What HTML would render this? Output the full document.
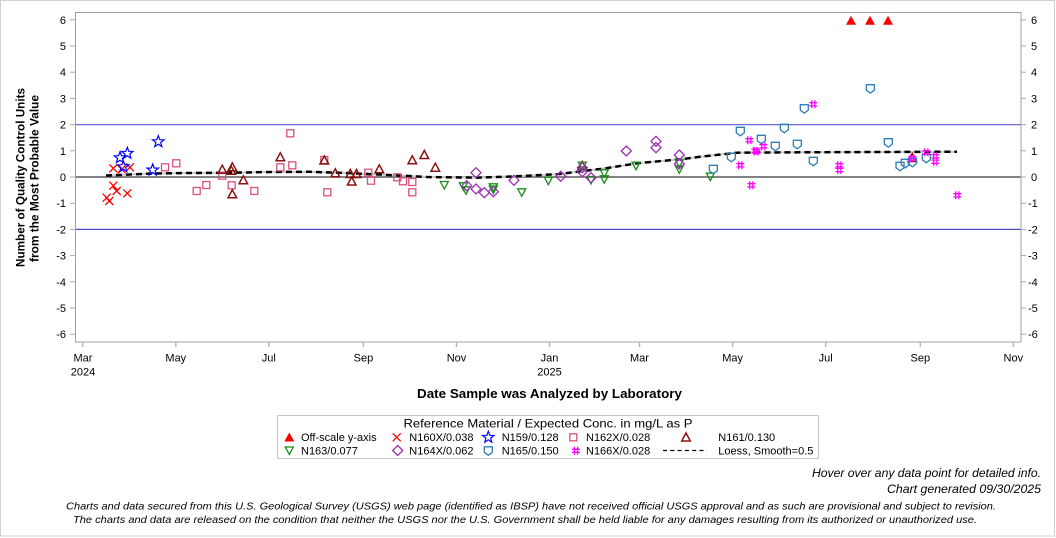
<!DOCTYPE html>
<html><head><meta charset="utf-8"><style>
html,body{margin:0;padding:0;background:#fff;}
svg{display:block;font-family:"Liberation Sans",Arial,sans-serif;}
</style></head><body>
<svg width="1056" height="538" viewBox="0 0 1056 538" xmlns="http://www.w3.org/2000/svg">
<defs>
<g id="sq"><rect x="-3.5" y="-3.5" width="7" height="7" fill="none" stroke="#d9507f" stroke-width="1.3"/></g>
<g id="tri"><polygon points="0,-4.5 4.3,3.5 -4.3,3.5" fill="none" stroke="#8b1010" stroke-width="1.5"/></g>
<g id="dtri"><polygon points="-4,-3.5 4,-3.5 0,4" fill="none" stroke="#1a8c1a" stroke-width="1.3"/></g>
<g id="dia"><polygon points="0,-5 5,0 0,5 -5,0" fill="none" stroke="#9b30b0" stroke-width="1.3"/></g>
<g id="shd"><polygon points="-4,-4 4,-4 4,1.5 0,4.5 -4,1.5" fill="none" stroke="#2f7fb3" stroke-width="1.3"/></g>
<g id="xx"><path d="M-4,-4L4,4M-4,4L4,-4" stroke="#ff0000" stroke-width="1.3" fill="none"/></g>
<g id="star"><polygon points="0,-6 1.5,-2 5.7,-1.9 2.4,0.8 3.5,4.9 0,2.5 -3.5,4.9 -2.4,0.8 -5.7,-1.9 -1.5,-2" fill="none" stroke="#0000ff" stroke-width="1.2"/></g>
<g id="hash"><path d="M-1.6,-4V4M1.6,-4V4M-4,-1.6H4M-4,1.6H4" stroke="#ff00ff" stroke-width="1.3" fill="none"/></g>
<g id="off"><polygon points="0,-5 5,4 -5,4" fill="#ff0000"/></g>
</defs>

<!-- outer border -->
<rect x="0.5" y="0.5" width="1054" height="535.5" fill="none" stroke="#d0d0d0" stroke-width="1"/>

<!-- reference lines -->
<line x1="75.5" y1="124.6" x2="1021" y2="124.6" stroke="#6a6ad8" stroke-width="1.3"/>
<line x1="75.5" y1="229.4" x2="1021" y2="229.4" stroke="#4f4fc0" stroke-width="1.3"/>
<line x1="75.5" y1="177" x2="1021" y2="177" stroke="#5a5a5a" stroke-width="1.5"/>

<!-- frame -->
<rect x="75.5" y="12.5" width="945.5" height="329.5" fill="none" stroke="#a0a0a0" stroke-width="1"/>

<!-- y ticks left/right -->
<g stroke="#a8a8a8" stroke-width="1">
<line x1="70" y1="19.8" x2="75" y2="19.8"/><line x1="70" y1="46" x2="75" y2="46"/><line x1="70" y1="72.2" x2="75" y2="72.2"/><line x1="70" y1="98.4" x2="75" y2="98.4"/><line x1="70" y1="124.6" x2="75" y2="124.6"/><line x1="70" y1="150.8" x2="75" y2="150.8"/><line x1="70" y1="177" x2="75" y2="177"/><line x1="70" y1="203.2" x2="75" y2="203.2"/><line x1="70" y1="229.4" x2="75" y2="229.4"/><line x1="70" y1="255.6" x2="75" y2="255.6"/><line x1="70" y1="281.8" x2="75" y2="281.8"/><line x1="70" y1="308" x2="75" y2="308"/><line x1="70" y1="334.2" x2="75" y2="334.2"/>
<line x1="1021" y1="19.8" x2="1026" y2="19.8"/><line x1="1021" y1="46" x2="1026" y2="46"/><line x1="1021" y1="72.2" x2="1026" y2="72.2"/><line x1="1021" y1="98.4" x2="1026" y2="98.4"/><line x1="1021" y1="124.6" x2="1026" y2="124.6"/><line x1="1021" y1="150.8" x2="1026" y2="150.8"/><line x1="1021" y1="177" x2="1026" y2="177"/><line x1="1021" y1="203.2" x2="1026" y2="203.2"/><line x1="1021" y1="229.4" x2="1026" y2="229.4"/><line x1="1021" y1="255.6" x2="1026" y2="255.6"/><line x1="1021" y1="281.8" x2="1026" y2="281.8"/><line x1="1021" y1="308" x2="1026" y2="308"/><line x1="1021" y1="334.2" x2="1026" y2="334.2"/>
</g>
<g font-size="11" fill="#000" text-anchor="end">
<text x="66" y="23.8">6</text><text x="66" y="50">5</text><text x="66" y="76.2">4</text><text x="66" y="102.4">3</text><text x="66" y="128.6">2</text><text x="66" y="154.8">1</text><text x="66" y="181">0</text><text x="66" y="207.2">-1</text><text x="66" y="233.4">-2</text><text x="66" y="259.6">-3</text><text x="66" y="285.8">-4</text><text x="66" y="312">-5</text><text x="66" y="338.2">-6</text>
</g>
<g font-size="11" fill="#000" text-anchor="start">
<text x="1031" y="23.8">6</text><text x="1031" y="50">5</text><text x="1031" y="76.2">4</text><text x="1031" y="102.4">3</text><text x="1031" y="128.6">2</text><text x="1031" y="154.8">1</text><text x="1031" y="181">0</text><text x="1028" y="207.2">-1</text><text x="1028" y="233.4">-2</text><text x="1028" y="259.6">-3</text><text x="1028" y="285.8">-4</text><text x="1028" y="312">-5</text><text x="1028" y="338.2">-6</text>
</g>

<!-- x ticks -->
<g stroke="#b8b8b8" stroke-width="1.5">
<line x1="82.7" y1="342" x2="82.7" y2="347"/><line x1="175.8" y1="342" x2="175.8" y2="347"/><line x1="268.8" y1="342" x2="268.8" y2="347"/><line x1="363.4" y1="342" x2="363.4" y2="347"/><line x1="456.5" y1="342" x2="456.5" y2="347"/><line x1="549.5" y1="342" x2="549.5" y2="347"/><line x1="639.5" y1="342" x2="639.5" y2="347"/><line x1="732.6" y1="342" x2="732.6" y2="347"/><line x1="825.7" y1="342" x2="825.7" y2="347"/><line x1="920.3" y1="342" x2="920.3" y2="347"/><line x1="1013.3" y1="342" x2="1013.3" y2="347"/>
</g>
<g font-size="11" fill="#000" text-anchor="middle">
<text x="83" y="361.5">Mar</text><text x="83" y="375.5">2024</text>
<text x="175.8" y="361.5">May</text><text x="268.8" y="361.5">Jul</text><text x="363.4" y="361.5">Sep</text><text x="456.5" y="361.5">Nov</text>
<text x="549.5" y="361.5">Jan</text><text x="549.5" y="375.5">2025</text>
<text x="639.5" y="361.5">Mar</text><text x="732.6" y="361.5">May</text><text x="825.7" y="361.5">Jul</text><text x="920.3" y="361.5">Sep</text><text x="1013.3" y="361.5">Nov</text>
</g>

<!-- axis titles -->
<text transform="translate(24.5,177.5) rotate(-90)" text-anchor="middle" font-size="12" font-weight="bold" textLength="179" lengthAdjust="spacingAndGlyphs">Number of Quality Control Units</text>
<text transform="translate(38.5,178.5) rotate(-90)" text-anchor="middle" font-size="12" font-weight="bold" textLength="167" lengthAdjust="spacingAndGlyphs">from the Most Probable Value</text>
<text x="549.5" y="398" text-anchor="middle" font-size="13" font-weight="bold" textLength="265" lengthAdjust="spacingAndGlyphs">Date Sample was Analyzed by Laboratory</text>

<!-- loess -->
<polyline points="106,175.5 130,174.5 152,173.5 190,173 232,172.7 270,172 308,171.8 340,172.8 368,174 400,175.5 427,177 477,177.7 517,176.3 560,174 583,171 603,168.7 637,163.3 683,159 700,156.8 737,152.7 800,152.3 957,151.7" fill="none" stroke="#c8c8c8" stroke-width="2"/>
<polyline points="106,175.5 130,174.5 152,173.5 190,173 232,172.7 270,172 308,171.8 340,172.8 368,174 400,175.5 427,177 477,177.7 517,176.3 560,174 583,171 603,168.7 637,163.3 683,159 700,156.8 737,152.7 800,152.3 957,151.7" fill="none" stroke="#000" stroke-width="2.5" stroke-dasharray="6 4"/>

<!-- N160X -->
<use href="#xx" x="106.7" y="197.7"/><use href="#xx" x="109.3" y="201"/><use href="#xx" x="113.3" y="185.7"/><use href="#xx" x="116.7" y="191"/><use href="#xx" x="127.3" y="193.3"/><use href="#xx" x="113.3" y="168.3"/><use href="#xx" x="121.7" y="169.3"/><use href="#xx" x="130" y="167.3"/>
<!-- N159 -->
<use href="#star" x="158.3" y="141.7"/><use href="#star" x="127.3" y="153.3"/><use href="#star" x="120" y="157.7"/><use href="#star" x="123.3" y="166.7"/><use href="#star" x="152.7" y="170"/>
<!-- N162X -->
<use href="#sq" x="165" y="167.3"/><use href="#sq" x="176.3" y="163.3"/><use href="#sq" x="196.7" y="191"/><use href="#sq" x="206.3" y="185"/><use href="#sq" x="222.3" y="175.7"/><use href="#sq" x="231.7" y="185.3"/><use href="#sq" x="254.3" y="191"/><use href="#sq" x="280.3" y="167.3"/><use href="#sq" x="290.3" y="133.3"/><use href="#sq" x="292.3" y="165.3"/><use href="#sq" x="324.3" y="160"/><use href="#sq" x="327.3" y="192.3"/><use href="#sq" x="368.3" y="172.7"/><use href="#sq" x="371" y="180.7"/><use href="#sq" x="397.3" y="177.3"/><use href="#sq" x="403" y="181.3"/><use href="#sq" x="412.3" y="182"/><use href="#sq" x="412.3" y="192.3"/>
<!-- N161 -->
<use href="#tri" x="222.3" y="169.7"/><use href="#tri" x="232.3" y="167.3"/><use href="#tri" x="231.3" y="170.7"/><use href="#tri" x="243.3" y="180.3"/><use href="#tri" x="232.3" y="194.3"/><use href="#tri" x="280.3" y="157.3"/><use href="#tri" x="324.3" y="160.5"/><use href="#tri" x="335.3" y="173.3"/><use href="#tri" x="350.3" y="174"/><use href="#tri" x="351.7" y="181.5"/><use href="#tri" x="356.5" y="174"/><use href="#tri" x="379.3" y="169.3"/><use href="#tri" x="412.3" y="160.3"/><use href="#tri" x="424.3" y="155"/><use href="#tri" x="435.3" y="167.7"/><use href="#tri" x="582.3" y="166"/><use href="#tri" x="912.3" y="158"/>
<!-- N163 -->
<use href="#dtri" x="444.3" y="185"/><use href="#dtri" x="463.3" y="186.3"/><use href="#dtri" x="466" y="190.3"/><use href="#dtri" x="493.3" y="187.3"/><use href="#dtri" x="493.3" y="189.5"/><use href="#dtri" x="521.7" y="192.3"/><use href="#dtri" x="548.3" y="180.7"/><use href="#dtri" x="582.3" y="165.7"/><use href="#dtri" x="591" y="180"/><use href="#dtri" x="604.3" y="173.3"/><use href="#dtri" x="604.3" y="179.3"/><use href="#dtri" x="636" y="165.7"/><use href="#dtri" x="679.3" y="169.3"/><use href="#dtri" x="679.3" y="163.3"/><use href="#dtri" x="710.3" y="176.7"/>
<!-- N164X -->
<use href="#dia" x="476" y="172.7"/><use href="#dia" x="466.7" y="185.7"/><use href="#dia" x="476" y="189"/><use href="#dia" x="484.3" y="192.7"/><use href="#dia" x="493.3" y="191.7"/><use href="#dia" x="514" y="180.3"/><use href="#dia" x="560.7" y="176.3"/><use href="#dia" x="582.3" y="167.7"/><use href="#dia" x="582.3" y="171.7"/><use href="#dia" x="591" y="177.7"/><use href="#dia" x="626.3" y="151"/><use href="#dia" x="656" y="141.3"/><use href="#dia" x="656" y="147.7"/><use href="#dia" x="679.3" y="155"/><use href="#dia" x="679.3" y="164"/>
<!-- N165 -->
<use href="#shd" x="713.3" y="169.3"/><use href="#shd" x="731.3" y="157.3"/><use href="#shd" x="740.3" y="131.3"/><use href="#shd" x="761.3" y="139.3"/><use href="#shd" x="775.3" y="146.3"/><use href="#shd" x="784.3" y="128.3"/><use href="#shd" x="797.3" y="144.3"/><use href="#shd" x="804.3" y="108.7"/><use href="#shd" x="813.3" y="161.3"/><use href="#shd" x="870.3" y="88.7"/><use href="#shd" x="888.3" y="142.7"/><use href="#shd" x="900" y="166.3"/><use href="#shd" x="905.3" y="163.3"/><use href="#shd" x="912.3" y="162.3"/><use href="#shd" x="926.3" y="158.3"/>
<!-- N166X -->
<use href="#hash" x="813.3" y="104.3"/><use href="#hash" x="749.3" y="140.3"/><use href="#hash" x="763.3" y="146.3"/><use href="#hash" x="755.3" y="150.7"/><use href="#hash" x="756.5" y="151.5"/><use href="#hash" x="740.3" y="165.3"/><use href="#hash" x="751.3" y="185.3"/><use href="#hash" x="839.3" y="165.3"/><use href="#hash" x="839.3" y="170"/><use href="#hash" x="912.3" y="158.3"/><use href="#hash" x="926.3" y="152.3"/><use href="#hash" x="935.3" y="156.3"/><use href="#hash" x="935.3" y="161.7"/><use href="#hash" x="957.3" y="195.3"/>
<!-- off-scale -->
<use href="#off" x="851" y="20.7"/><use href="#off" x="870" y="20.7"/><use href="#off" x="888" y="20.7"/>

<!-- legend -->
<rect x="277.5" y="415.5" width="541" height="43" fill="#fff" stroke="#c8c8c8" stroke-width="1"/>
<text x="548" y="427.5" text-anchor="middle" font-size="12" textLength="289" lengthAdjust="spacingAndGlyphs">Reference Material / Expected Conc. in mg/L as P</text>
<g font-size="11" fill="#000">
<use href="#off" x="289.3" y="437.5"/><text x="301" y="441">Off-scale y-axis</text>
<use href="#xx" x="396.7" y="437.3"/><text x="409.3" y="441">N160X/0.038</text>
<use href="#star" x="488.3" y="437.3"/><text x="501.7" y="441">N159/0.128</text>
<use href="#sq" x="573.3" y="437.3"/><text x="586" y="441">N162X/0.028</text>
<use href="#tri" x="686" y="437.5"/><text x="718.3" y="441">N161/0.130</text>
<use href="#dtri" x="289.3" y="450.5"/><text x="301" y="454.3">N163/0.077</text>
<use href="#dia" x="397.7" y="450.5"/><text x="409.3" y="454.3">N164X/0.062</text>
<use href="#shd" x="488.3" y="450.8"/><text x="501.7" y="454.3">N165/0.150</text>
<use href="#hash" x="576" y="450.8"/><text x="586" y="454.3">N166X/0.028</text>
<line x1="663" y1="450.5" x2="707" y2="450.5" stroke="#000" stroke-width="1.2" stroke-dasharray="4 3.3"/><text x="718.3" y="454.3">Loess, Smooth=0.5</text>
</g>

<!-- footer -->
<g font-style="italic" fill="#000">
<text x="1041" y="477" text-anchor="end" font-size="12" textLength="229" lengthAdjust="spacingAndGlyphs">Hover over any data point for detailed info.</text>
<text x="1041" y="493" text-anchor="end" font-size="12" textLength="154" lengthAdjust="spacingAndGlyphs">Chart generated 09/30/2025</text>
<text x="66" y="509.5" font-size="10.5" textLength="930" lengthAdjust="spacingAndGlyphs">Charts and data secured from this U.S. Geological Survey (USGS) web page (identified as IBSP) have not received official USGS approval and as such are provisional and subject to revision.</text>
<text x="73" y="523" font-size="10.5" textLength="904" lengthAdjust="spacingAndGlyphs">The charts and data are released on the condition that neither the USGS nor the U.S. Government shall be held liable for any damages resulting from its authorized or unauthorized use.</text>
</g>
</svg>
</body></html>
